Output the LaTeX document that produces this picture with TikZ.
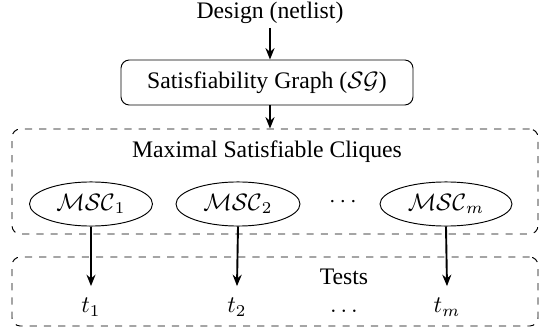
\documentclass[tikz,border=0pt]{standalone}
\usepackage[no-math]{fontspec}
\setmainfont{Liberation Serif}
\usetikzlibrary{shapes.geometric,arrows.meta}
\tikzset{
  flow/.style={-{Stealth[length=4.8pt,width=3.8pt]}, line width=0.8pt},
  roundbox/.style={draw, rounded corners=3.5pt, line width=0.4pt},
  groupbox/.style={draw, dashed, rounded corners=3.5pt, line width=0.4pt},
  msc/.style={draw, ellipse, line width=0.4pt, inner sep=0pt, minimum height=18.6pt},
  lbl/.style={inner sep=0pt}
}
\begin{document}
\begin{tikzpicture}[x=0.422pt, y=-0.422pt, font=\rmfamily\fontsize{10}{12}\selectfont]
\useasboundingbox (0,0) rectangle (539,332);
% group boxes
\node[groupbox, minimum width=526*0.422pt, minimum height=105*0.422pt] (mscbox) at (275,181.5) {};
\node[groupbox, minimum width=526*0.422pt, minimum height=69*0.422pt] (testbox) at (275,291.5) {};
% top
\node[lbl] (design) at (270,13) {Design (netlist)};
\node[roundbox, minimum width=292*0.422pt, minimum height=45*0.422pt] (sg) at (267,82.5) {Satisfiability Graph ($\mathcal{SG}$)};
\node[lbl] (mlabel) at (267,152) {Maximal Satisfiable Cliques};
% ellipses
\node[msc, minimum width=123*0.422pt] (m1) at (91,204) {$\mathcal{MSC}_1$};
\node[msc, minimum width=124*0.422pt] (m2) at (238,204) {$\mathcal{MSC}_2$};
\node[lbl] (mdots) at (343,202) {$\cdots$};
\node[msc, minimum width=132*0.422pt] (m3) at (446,204) {$\mathcal{MSC}_m$};
% tests
\node[lbl] (tlabel) at (344,277) {Tests};
\node[lbl, anchor=base] (t1) at (91,313) {$t_1$};
\node[lbl, anchor=base] (t2) at (237,313) {$t_2$};
\node[lbl, anchor=base] (tdots) at (344,313) {$\ldots$};
\node[lbl, anchor=base] (t3) at (447,313) {$t_m$};
% connectors
\coordinate (dtop) at (270,28);
\draw[flow] (dtop) -- (sg.north -| dtop);
\draw[flow] (sg.south -| dtop) -- (mscbox.north -| dtop);
\draw[flow] (m1.south) -- ([yshift=5pt]t1.north);
\draw[flow] (m2.south) -- ([yshift=5pt]t2.north);
\draw[flow] (m3.south) -- ([yshift=5pt]t3.north);
\end{tikzpicture}
\end{document}
